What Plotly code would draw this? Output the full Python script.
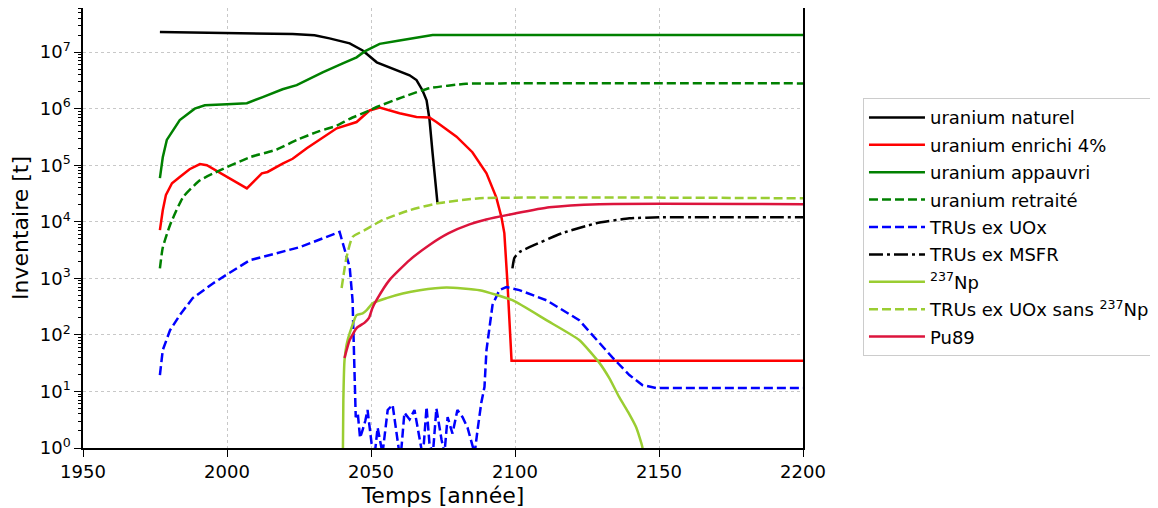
import plotly.graph_objects as go

# ---------------- data (years, tonnes) ----------------
nat_years = [1976.7, 2000, 2011.4, 2022.8, 2030.4, 2035.6, 2042.6, 2047.1, 2052.0, 2056.4,
             2063.4, 2065.8, 2067.9, 2069.3, 2070.3, 2071.4, 2072.4, 2073.1]
nat_vals = [2.26e7, 2.16e7, 2.14e7, 2.08e7, 1.98e7, 1.75e7, 1.43e7, 1.07e7, 6.6e6, 5.4e6,
            3.9e6, 3.2e6, 2.1e6, 1.4e6, 6.5e5, 1.6e5, 4.5e4, 2.1e4]

enr_years = [1976.7, 1977.7, 1978.8, 1980.9, 1983.6, 1987.0, 1990.6, 1993.0, 2006.9, 2012.1,
             2014.1, 2019.3, 2022.8, 2027.7, 2038.1, 2045.0, 2049.5, 2053.0, 2059.9, 2065.8,
             2070.3, 2072.7, 2079.7, 2085.2, 2090.1, 2093.5, 2095.3, 2096.3, 2097.4, 2098.8, 2200]
enr_vals = [7.1e3, 1.6e4, 3.0e4, 4.8e4, 6.2e4, 8.5e4, 1.05e5, 1.0e5, 3.9e4, 7.2e4,
            7.6e4, 1.07e5, 1.3e5, 2.0e5, 4.5e5, 5.8e5, 9.3e5, 1.05e6, 8.3e5, 7.1e5,
            7.0e5, 5.8e5, 3.2e5, 1.7e5, 7.2e4, 2.7e4, 1.2e4, 6.3e3, 8.0e2, 35, 35]

app_years = [1976.7, 1977.7, 1979.1, 1980.9, 1983.6, 1988.8, 1992.3, 2000, 2006.9, 2012.4,
             2019.3, 2024.2, 2033.2, 2040.2, 2045.0, 2047.8, 2053.0, 2059.9, 2071.4, 2200]
app_vals = [5.9e4, 1.38e5, 2.8e5, 3.8e5, 6.3e5, 1.0e6, 1.15e6, 1.2e6, 1.25e6, 1.6e6,
            2.2e6, 2.6e6, 4.4e6, 6.3e6, 8.1e6, 1.03e7, 1.4e7, 1.6e7, 2.0e7, 2.0e7]

ret_years = [1976.7, 1977.7, 1980.2, 1984.7, 1990.6, 1997.5, 2007.9, 2017.3, 2024.2, 2032.0,
             2038.1, 2042.6, 2049.5, 2052.0, 2061.0, 2070.3, 2083.0, 2095.0, 2200]
ret_vals = [1.5e3, 3.5e3, 8.7e3, 2.7e4, 5.4e4, 8.1e4, 1.38e5, 1.9e5, 2.8e5, 4.0e5,
            5.0e5, 6.6e5, 9.3e5, 1.07e6, 1.6e6, 2.3e6, 2.75e6, 2.8e6, 2.8e6]

uox_years = [1976.7, 1977.7, 1980.2, 1983.6, 1988.1, 1995.1, 2000.0, 2007.9, 2025.2, 2039.1,
             2040.2, 2042.6, 2043.6, 2044.3, 2044.7,
             2045.4, 2046.2, 2047.1, 2048.0, 2048.8, 2050.2, 2051.2, 2052.3, 2054.0, 2055.8,
             2057.5, 2059.2, 2060.2, 2061.6, 2063.4, 2065.1, 2066.9, 2068.0, 2069.3, 2070.3,
             2071.5, 2072.7, 2074.5, 2075.5, 2076.6, 2078.3, 2080.0, 2081.8, 2083.5, 2085.2,
             2086.0, 2087.0, 2088.3, 2089.4, 2090.1, 2092.2, 2094.6, 2097.0, 2101.5, 2110.9,
             2122.3, 2133.8, 2139.7, 2144.2, 2149.0, 2200]
uox_vals = [19.5, 54, 120, 224, 447, 813, 1175, 2090, 3550, 6600,
            4200, 1580, 410, 16, 3.5,
            4.2, 1.5, 2.1, 3.0, 4.7, 1.2, 0.7, 2.3, 0.8, 4.7,
            5.8, 1.2, 0.6, 4.2, 3.2, 4.7, 1.4, 0.7, 5.3, 1.2,
            0.8, 5.0, 1.4, 0.8, 3.5, 1.8, 4.7, 3.5, 2.3, 1.2,
            0.8, 2.1, 6.3, 12, 54, 340, 620, 700, 620, 410,
            182, 40, 19.5, 13, 11.5, 11.5]

msfr_years = [2099.1, 2099.8, 2101.5, 2105.0, 2116.4, 2128.2, 2139.7, 2151.1, 2200]
msfr_vals = [1.5e3, 2.3e3, 2.9e3, 3.55e3, 6.3e3, 9.4e3, 1.15e4, 1.2e4, 1.2e4]

np_years = [2040.2, 2040.4, 2040.8, 2041.5, 2042.6, 2045.0, 2047.1, 2048.5, 2050.6, 2055.4,
            2061.0, 2066.9, 2076.2, 2087.7, 2099.1, 2110.9, 2122.3, 2129.3, 2132.8, 2136.2,
            2139.3, 2142.1, 2144.2, 2144.8]
np_vals = [0.5, 7, 35, 66, 107, 224, 240, 275, 363, 447,
           540, 617, 690, 617, 410, 182, 81, 32, 17, 7.9,
           4.3, 2.3, 1.05, 0.5]

sans_years = [2039.8, 2041.5, 2043.6, 2047.8, 2054.0, 2063.4, 2072.7, 2087.7, 2200]
sans_vals = [675, 2350, 5400, 7100, 1.07e4, 1.6e4, 2.1e4, 2.6e4, 2.6e4]

pu_years = [2040.8, 2042.6, 2045.0, 2047.8, 2049.3, 2050.5, 2052.0, 2056.4, 2063.4, 2070.3,
            2077.0, 2084.2, 2090.0, 2100.0, 2111.9, 2129.3, 2200]
pu_vals = [39, 81, 132, 165, 200, 300, 420, 930, 2100, 3900,
           6300, 9000, 1.1e4, 1.4e4, 1.8e4, 2.05e4, 2.05e4]

x_ticks = [1950, 2000, 2050, 2100, 2150, 2200]
y_exps = [0, 1, 2, 3, 4, 5, 6, 7]

# ---------------- figure ----------------
FONT = "DejaVu Sans"
LW = 2.5
DASH = "9px,4px"
DASHDOT = "14px,4px,3px,4px"

series = [
    ("uranium naturel", nat_years, nat_vals, "#000000", "solid", "linear"),
    ("uranium enrichi 4%", enr_years, enr_vals, "#ff0000", "solid", "linear"),
    ("uranium appauvri", app_years, app_vals, "#008000", "solid", "linear"),
    ("uranium retraité", ret_years, ret_vals, "#008000", DASH, "spline"),
    ("TRUs ex UOx", uox_years, uox_vals, "#0000ff", DASH, "linear"),
    ("TRUs ex MSFR", msfr_years, msfr_vals, "#000000", DASHDOT, "spline"),
    ("<sup>237</sup>Np", np_years, np_vals, "#9acd32", "solid", "spline"),
    ("TRUs ex UOx sans <sup>237</sup>Np", sans_years, sans_vals, "#9acd32", DASH, "spline"),
    ("Pu89", pu_years, pu_vals, "#dc143c", "solid", "spline"),
]

fig = go.Figure()
for i, (name, xs, ys, col, dash, shape) in enumerate(series):
    line = dict(color=col, width=LW, dash=dash, shape=shape)
    if shape == "spline":
        line["smoothing"] = 0.5
    fig.add_trace(go.Scatter(x=xs, y=ys, mode="lines", name=name, legendgroup=f"g{i}",
                             line=line))

minor_vals = [m * 10 ** e for e in range(0, 8) for m in range(2, 10)]

fig.update_layout(
    width=1150, height=500,
    margin=dict(l=75, r=355, t=0, b=60, autoexpand=False),
    paper_bgcolor="white", plot_bgcolor="white",
    font=dict(family=FONT, size=18, color="black"),
    showlegend=True,
    legend=dict(x=1.0833, xanchor="left", y=0.795, yanchor="top",
                bordercolor="#cccccc", borderwidth=1, bgcolor="white",
                font=dict(family=FONT, size=18, color="black"),
                tracegroupgap=1, itemwidth=56,
                entrywidth=310, entrywidthmode="pixels"),
)
fig.update_xaxes(
    range=[1950, 2200], tickmode="array", tickvals=x_ticks,
    ticks="outside", ticklen=7, tickwidth=1.2, tickcolor="black",
    showline=True, linecolor="black", linewidth=1.5, mirror=True,
    showgrid=True, gridcolor="#c8c8c8", griddash="dot", gridwidth=1,
    zeroline=False,
    title=dict(text="Temps [année]", standoff=8),
)
fig.update_yaxes(
    type="log", range=[0, 7.78], tickmode="array",
    tickvals=[10 ** e for e in y_exps],
    ticktext=[f"10<sup>{e}</sup>" for e in y_exps],
    ticks="outside", ticklen=7, tickwidth=1.2, tickcolor="black",
    minor=dict(tickvals=minor_vals, ticks="outside", ticklen=3.5, tickwidth=1,
               tickcolor="black", showgrid=False),
    showline=True, linecolor="black", linewidth=1.5, mirror=True,
    showgrid=True, gridcolor="#c8c8c8", griddash="dot", gridwidth=1,
    zeroline=False,
    title=dict(text="Inventaire [t]", standoff=6),
)

fig.write_html("out.html")
